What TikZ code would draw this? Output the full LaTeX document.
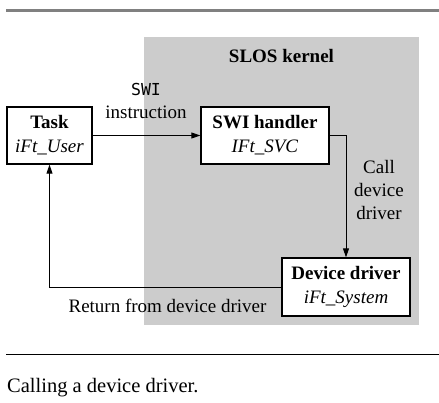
\documentclass[tikz,border=0pt]{standalone}
\usepackage{fontspec}
\setmainfont{Liberation Serif}
\setmonofont{DejaVu Sans Mono}
\usetikzlibrary{arrows.meta}
\definecolor{kernelgray}{HTML}{CCCCCC}
\definecolor{rulegray}{HTML}{808080}
\tikzset{
  procbox/.style={draw=black, line width=1.3pt, fill=white, align=center, inner sep=0pt,
    font=\fontsize{19}{24}\selectfont},
  lbl/.style={inner sep=0pt, align=center, font=\fontsize{19}{23}\selectfont},
  arr/.style={line width=0.9pt, -{Triangle[length=9pt,width=6pt]}},
}
\begin{document}
\begin{tikzpicture}[x=1pt,y=-1pt]
\useasboundingbox (0,0) rectangle (439,403);
\fill[white] (0,0) rectangle (439,403);
% rules
\draw[rulegray, line width=2.5pt] (6,10.7) -- (439,10.7);
\draw[black, line width=1pt] (6,354) -- (439,354);
% kernel area
\fill[kernelgray] (144,37) rectangle (419,325);
\node[lbl, font=\fontsize{19}{23}\selectfont\bfseries] (kern) at (281.5,56) {SLOS kernel};
% boxes
\node[procbox, minimum width=85pt, minimum height=57pt] (task) at (49.5,135.5)
  {\textbf{Task}\\\textit{iFt\_User}};
\node[procbox, minimum width=128pt, minimum height=57pt] (swi) at (265,135.5)
  {\textbf{SWI handler}\\\textit{IFt\_SVC}};
\node[procbox, minimum width=128pt, minimum height=58pt] (dev) at (346,287)
  {\textbf{Device driver}\\\textit{iFt\_System}};
% connectors
\draw[arr] (task.east) -- (swi.west);
\draw[arr] (swi.east) -| (dev.north);
\draw[arr] (dev.west) -| (task.south);
% labels
\node[lbl, font=\fontsize{16.5}{18}\ttfamily] (swil) at (146,89) {SWI};
\node[lbl] (instr) at (146,112) {instruction};
\node[lbl] (call) at (379,190.5) {Call\\device\\driver};
\node[lbl] (ret) at (167.5,306) {Return from device driver};
% caption
\node[inner sep=0pt, anchor=base west, font=\fontsize{20.5}{24}\selectfont] (cap) at (7,392) {Calling a device driver.};
\end{tikzpicture}
\end{document}
